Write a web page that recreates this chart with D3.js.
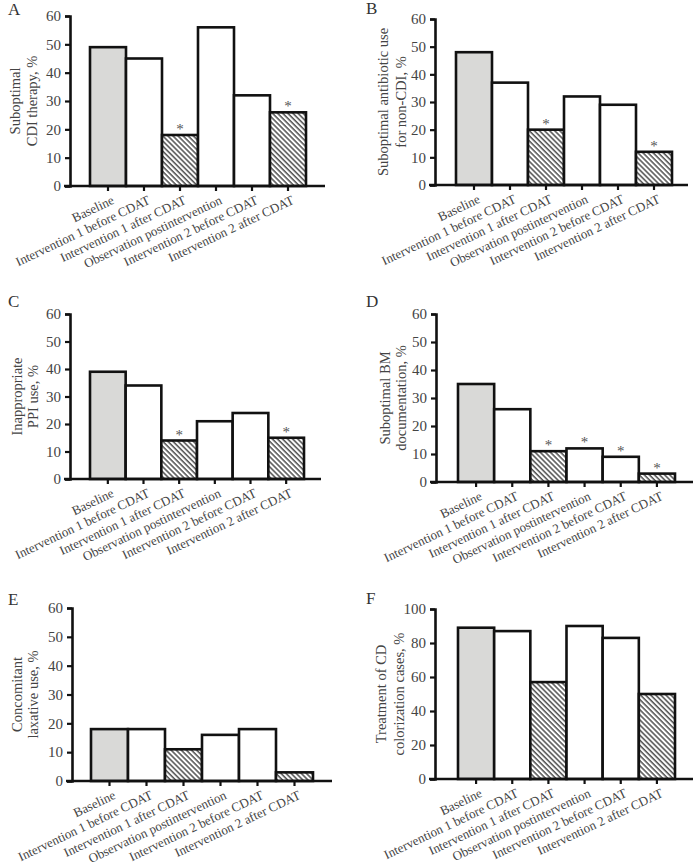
<!DOCTYPE html>
<html><head><meta charset="utf-8">
<script src="https://cdn.jsdelivr.net/npm/d3@7"></script>
<style>body{margin:0;background:#fff}svg{display:block}</style>
</head><body>
<script>
// ---------- data ----------
const categories = ["Baseline","Intervention 1 before CDAT","Intervention 1 after CDAT","Observation postintervention","Intervention 2 before CDAT","Intervention 2 after CDAT"];
const barKinds = ["baseline","open","hatched","open","open","hatched"];
const panelLetters = ["A","B","C","D","E","F"];
const yLabels = [
  ["Suboptimal","CDI therapy, %"],
  ["Suboptimal antibiotic use","for non-CDI, %"],
  ["Inappropriate","PPI use, %"],
  ["Suboptimal BM","documentation, %"],
  ["Concomitant","laxative use, %"],
  ["Treatment of CD","colorization cases, %"]
];
const valuesA = [49,45,18,56,32,26];
const valuesB = [48,37,20,32,29,12];
const valuesC = [39,34,14,21,24,15];
const valuesD = [35,26,11,12,9,3];
const valuesE = [18,18,11,16,18,3];
const valuesF = [89,87,57,90,83,50];
const starsA = [0,0,1,0,0,1];
const starsB = [0,0,1,0,0,1];
const starsC = [0,0,1,0,0,1];
const starsD = [0,0,1,1,1,1];
const starsE = [0,0,0,0,0,0];
const starsF = [0,0,0,0,0,0];
const ticks60 = [0,10,20,30,40,50,60];
const ticks100 = [0,20,40,60,80,100];

const panelValues = [valuesA,valuesB,valuesC,valuesD,valuesE,valuesF];
const panelStars = [starsA,starsB,starsC,starsD,starsE,starsF];
const panelTicks = [ticks60,ticks60,ticks60,ticks60,ticks60,ticks100];

// ---------- layout ----------
const layout = [
  {ax:70, top:16, base:186, b0:90, b1:306, end:325, lx:8,  ly:15, l1:20, l2:37},
  {ax:435, top:19, base:185, b0:456, b1:672, end:688, lx:366, ly:14, l1:388, l2:406},
  {ax:70, top:314, base:479, b0:90, b1:304, end:321, lx:8, ly:307, l1:22, l2:38},
  {ax:436, top:314, base:482, b0:458, b1:675, end:693, lx:366, ly:307, l1:390, l2:406},
  {ax:72, top:608, base:781, b0:91, b1:313, end:332, lx:8, ly:605, l1:22, l2:38},
  {ax:435, top:609, base:779, b0:458, b1:675, end:693, lx:366, ly:604, l1:386, l2:404}
];

const W = 696, H = 866;
const FONT = "'Liberation Serif','DejaVu Serif',serif";
const svg = d3.select("body").append("svg").attr("width",W).attr("height",H)
  .style("font-family",FONT);

const defs = svg.append("defs");
const pat = defs.append("pattern").attr("id","hatch").attr("patternUnits","userSpaceOnUse")
  .attr("width",3.6).attr("height",3.6).attr("patternTransform","rotate(-45)");
pat.append("rect").attr("width",3.6).attr("height",3.6).attr("fill","#fff");
pat.append("line").attr("x1",1).attr("y1",0).attr("x2",1).attr("y2",3.6)
  .attr("stroke","#333").attr("stroke-width",1.3);

const fills = {baseline:"#d9d9d7", open:"#ffffff", hatched:"url(#hatch)"};

panelValues.forEach((vals, i) => {
  const L = layout[i];
  const g = svg.append("g");
  const tickVals = panelTicks[i];
  const y = d3.scaleLinear().domain([0, d3.max(tickVals)]).range([L.base, L.top]);
  const x = d3.scaleBand().domain(categories).range([L.b0, L.b1]).padding(0);

  // bars
  g.selectAll("rect.bar").data(categories).join("rect")
    .attr("class","bar")
    .attr("x", d => x(d))
    .attr("y", (d,j) => y(vals[j]))
    .attr("width", x.bandwidth())
    .attr("height", (d,j) => y(0) - y(vals[j]))
    .attr("fill", (d,j) => fills[barKinds[j]])
    .attr("stroke","#111").attr("stroke-width",2.6);

  // stars
  g.selectAll("text.star").data(categories.filter((d,j)=>panelStars[i][j]))
    .join("text").attr("class","star")
    .attr("x", d => x(d) + x.bandwidth()/2)
    .attr("y", d => y(vals[categories.indexOf(d)]) - 1)
    .attr("text-anchor","middle").attr("font-size",15).attr("fill","#555")
    .text("*");

  // left axis
  const yAxis = d3.axisLeft(y).tickValues(tickVals).tickSizeOuter(0).tickSize(5).tickPadding(4);
  const ga = g.append("g").attr("transform",`translate(${L.ax},0)`).call(yAxis);
  ga.select(".domain").attr("stroke","#111").attr("stroke-width",2.6);
  ga.selectAll(".tick line").attr("stroke","#111").attr("stroke-width",2.2);
  ga.selectAll(".tick text").attr("font-family",FONT).attr("font-size",15).attr("fill","#444");

  // bottom axis
  const xAxis = d3.axisBottom(x).tickSizeOuter(0).tickSize(5).tickFormat("");
  const gb = g.append("g").attr("transform",`translate(0,${L.base})`).call(xAxis);
  gb.select(".domain").remove();
  gb.selectAll(".tick line").attr("stroke","#111").attr("stroke-width",2.2);
  gb.append("line").attr("x1",L.ax-6).attr("x2",L.end).attr("y1",0).attr("y2",0)
    .attr("stroke","#111").attr("stroke-width",2.6);
  gb.selectAll(".tick").append("text")
    .attr("transform","translate(5,13) rotate(-25.5)")
    .attr("text-anchor","end").attr("dy","0.35em")
    .attr("font-size",13).attr("fill","#444").attr("font-family",FONT)
    .text(d => d);

  // y label
  const cy = (L.top + L.base)/2;
  [L.l1, L.l2].forEach((lx, k) => {
    g.append("text").attr("transform",`translate(${lx},${cy}) rotate(-90)`)
      .attr("text-anchor","middle").attr("font-size",14.5).attr("fill","#444")
      .text(yLabels[i][k]);
  });

  // panel letter
  g.append("text").attr("x",L.lx).attr("y",L.ly).attr("font-size",17).attr("fill","#333")
    .text(panelLetters[i]);
});
</script>
</body></html>
